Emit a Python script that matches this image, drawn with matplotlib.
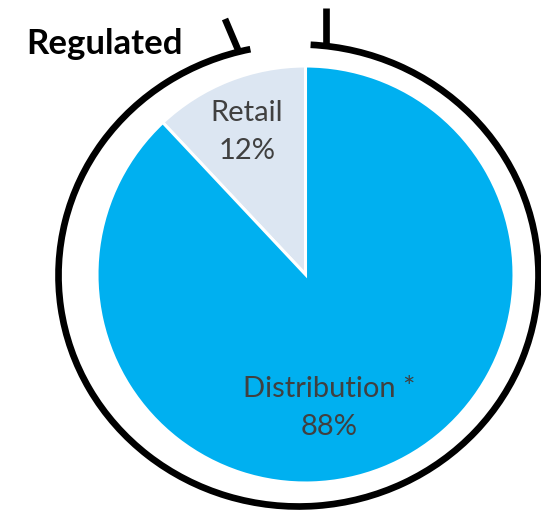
import matplotlib.pyplot as plt
from matplotlib.patches import Arc

# data
segments = ["Retail", "Distribution *"]
shares = [12, 88]
colors = ["#DCE6F2", "#00B0F0"]
title = "Regulated"

W, H = 541, 512
fig = plt.figure(figsize=(W / 100, H / 100), dpi=100)
ax = fig.add_axes([0, 0, 1, 1])

# pie (image coords converted to y-up)
cx, cy, r = 305.5, H - 274.5, 208.5
ax.pie(shares, colors=colors, startangle=90, counterclock=True,
       center=(cx, cy), radius=r, frame=True,
       wedgeprops=dict(edgecolor="white", linewidth=2.2))
ax.set_xlim(0, W)
ax.set_ylim(0, H)
ax.set_aspect("equal")
ax.set_axis_off()

# labels
font = ["Lato", "DejaVu Sans"]
label_pos = [(247, 132), (329, 408)]
for name, val, (x, y) in zip(segments, shares, label_pos):
    ax.text(x, H - y, f"{name}\n{val}%", ha="center", va="center",
            fontsize=21, color="#404040", family=font, linespacing=1.6)

# bracket arc around the pie
ax.add_patch(Arc((298.5, H - 275.5), 480, 462, theta1=102, theta2=87,
                 color="black", linewidth=4.8))
ax.plot([326, 326], [H - 47, H - 8], color="black", lw=4.8,
        solid_capstyle="butt")
ax.plot([239, 225], [H - 52, H - 19], color="black", lw=4.8,
        solid_capstyle="butt")

ax.text(26, H - 44, title, ha="left", va="center", fontsize=25,
        fontweight="bold", color="black", family=font)

fig.savefig("out.png", dpi=100)
